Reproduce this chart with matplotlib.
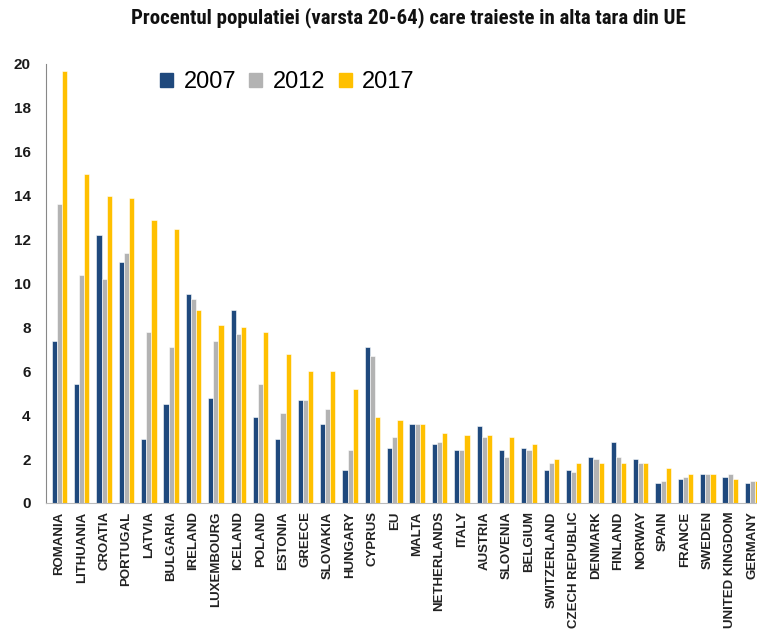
import numpy as np
import matplotlib
matplotlib.use("Agg")
import matplotlib.pyplot as plt
from matplotlib.patches import Patch

# Data (percent of population aged 20-64 living in another EU country)
countries = ["ROMANIA", "LITHUANIA", "CROATIA", "PORTUGAL", "LATVIA", "BULGARIA",
             "IRELAND", "LUXEMBOURG", "ICELAND", "POLAND", "ESTONIA", "GREECE",
             "SLOVAKIA", "HUNGARY", "CYPRUS", "EU", "MALTA", "NETHERLANDS", "ITALY",
             "AUSTRIA", "SLOVENIA", "BELGIUM", "SWITZERLAND", "CZECH REPUBLIC",
             "DENMARK", "FINLAND", "NORWAY", "SPAIN", "FRANCE", "SWEDEN",
             "UNITED KINGDOM", "GERMANY"]
v2007 = [7.4, 5.4, 12.2, 11.0, 2.9, 4.5, 9.5, 4.8, 8.8, 3.9, 2.9, 4.7, 3.6, 1.5, 7.1,
         2.5, 3.6, 2.7, 2.4, 3.5, 2.4, 2.5, 1.5, 1.5, 2.1, 2.8, 2.0, 0.9, 1.1, 1.3,
         1.2, 0.9]
v2012 = [13.6, 10.4, 10.2, 11.4, 7.8, 7.1, 9.3, 7.4, 7.7, 5.4, 4.1, 4.7, 4.3, 2.4, 6.7,
         3.0, 3.6, 2.8, 2.4, 3.0, 2.1, 2.4, 1.8, 1.4, 2.0, 2.1, 1.8, 1.0, 1.2, 1.3,
         1.3, 1.0]
v2017 = [19.7, 15.0, 14.0, 13.9, 12.9, 12.5, 8.8, 8.1, 8.0, 7.8, 6.8, 6.0, 6.0, 5.2, 3.9,
         3.8, 3.6, 3.2, 3.1, 3.1, 3.0, 2.7, 2.0, 1.8, 1.8, 1.8, 1.8, 1.6, 1.3, 1.3,
         1.1, 1.0]
years = ["2007", "2012", "2017"]
colors = ["#1F497D", "#B3B3B3", "#FFC000"]

condensed = ["Roboto Condensed", "Barlow Condensed", "Asap Condensed", "DejaVu Sans"]
sans = ["Liberation Sans", "DejaVu Sans"]

fig = plt.figure(figsize=(7.57, 6.33), dpi=100)
ax = fig.add_axes([46 / 757, 0.2054, 1 - 46 / 757, 0.6935])

x = np.arange(len(countries))
w = 0.23
for i, (vals, c) in enumerate(zip([v2007, v2012, v2017], colors)):
    ax.bar(x + (i - 1) * w, vals, width=w, color=c, edgecolor="white", linewidth=0.4)

ax.set_ylim(0, 20)
ax.set_xlim(-0.6, len(countries) - 0.8)
ax.set_yticks(range(0, 21, 2))
ax.set_yticklabels([str(t) for t in range(0, 21, 2)], family=sans,
                   fontweight="bold", fontsize=11, color="#1a1a1a")
ax.set_xticks(x)
ax.set_xticklabels(countries, rotation=90, family=sans,
                   fontweight="bold", fontsize=9.5, color="#222222")
ax.tick_params(axis="x", length=0, pad=6)
ax.tick_params(axis="y", length=0, pad=11)
for s in ["top", "right"]:
    ax.spines[s].set_visible(False)
ax.spines["left"].set_color("#888888")
ax.spines["bottom"].set_color("#BBBBBB")

handles = [Patch(color=c, label=y) for c, y in zip(colors, years)]
fig.legend(handles=handles, loc="center left", bbox_to_anchor=(139 / 757, 1 - 82 / 633),
           ncol=3, frameon=False, handlelength=0.55, handleheight=0.55,
           handletextpad=0.45, columnspacing=0.55,
           prop={"family": sans, "size": 17})

fig.text(0.539, 1 - 18 / 633,
         "Procentul populatiei (varsta 20-64) care traieste in alta tara din UE",
         ha="center", va="center", fontsize=15, fontweight="bold", family=condensed,
         color="#111111")

fig.savefig("out.png", dpi=100)
